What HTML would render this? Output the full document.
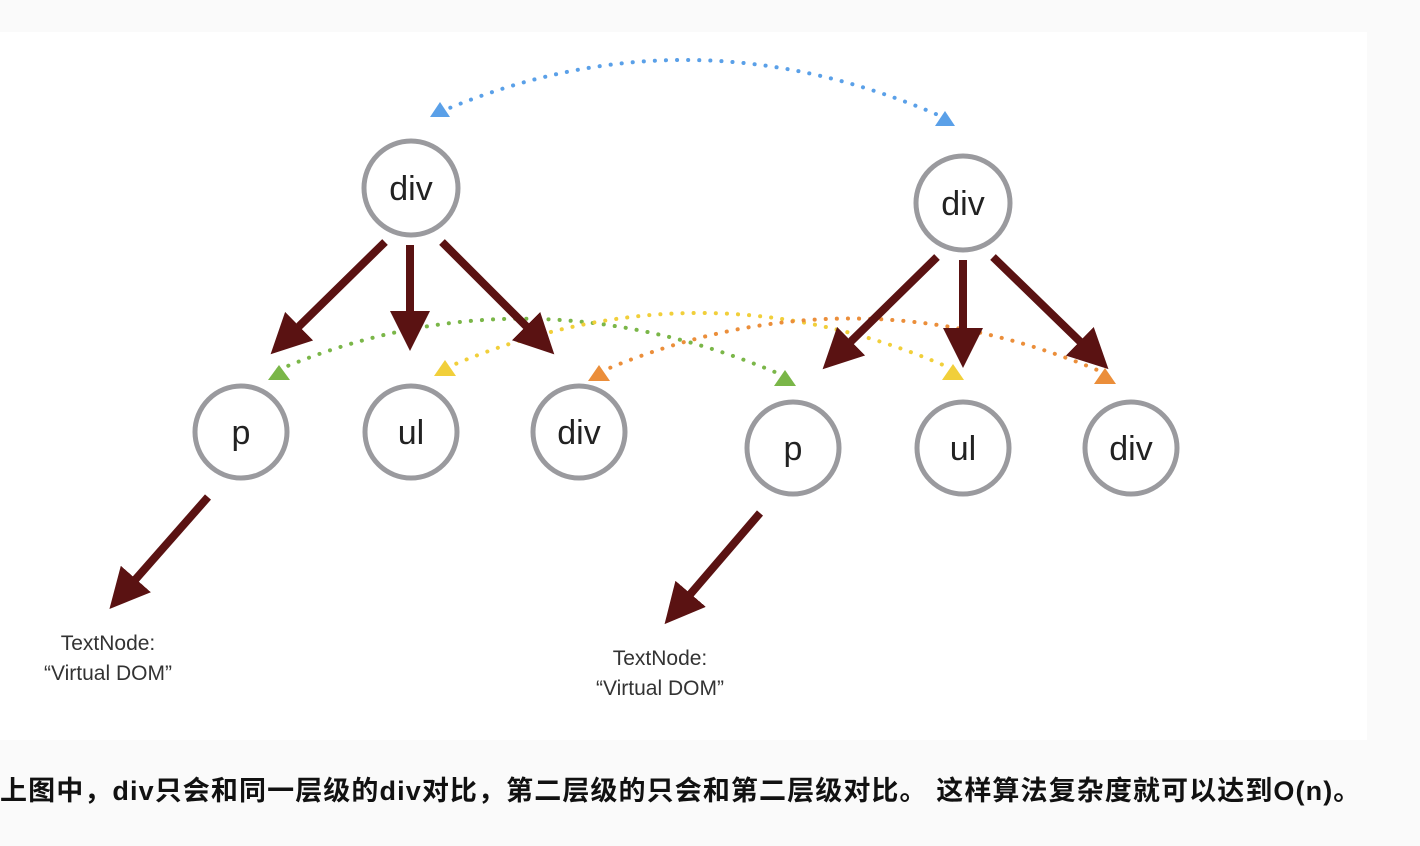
<!DOCTYPE html>
<html><head><meta charset="utf-8"><style>
body{margin:0;width:1420px;height:846px;background:#fafafa;overflow:hidden;position:relative;font-family:"Liberation Sans","Noto Sans CJK SC",sans-serif}
#img{position:absolute;left:0;top:32px;width:1367px;height:708px;background:#fff}
svg{position:absolute;left:0;top:0}
.cap{position:absolute;left:0;top:773px;font-size:27px;line-height:36px;font-weight:bold;color:#111;white-space:nowrap;letter-spacing:1.1px}
</style></head><body>
<div id="img"></div>
<svg width="1420" height="846" viewBox="0 0 1420 846">
<defs>
<marker id="ah" markerWidth="5" markerHeight="5" refX="3" refY="2.5" orient="auto" markerUnits="strokeWidth"><path d="M0,0 L5,2.5 L0,5 z" fill="#5a1212"/></marker>
</defs>
<g fill="none" stroke-width="4" stroke-dasharray="0.1 11" stroke-linecap="round">
<path d="M440,112 Q690,5 945,118" stroke="#5aa0e8"/>
<path d="M278,370 Q525,265 782,375" stroke="#7ab648"/>
<path d="M446,368 Q700,258 950,368" stroke="#f1cf3a"/>
<path d="M600,372 Q850,265 1102,372" stroke="#eb8e3a"/>
</g>
<g>
<path d="M430,117 L450,117 L440,102 z" fill="#5aa0e8"/>
<path d="M935,126 L955,126 L945,111 z" fill="#5aa0e8"/>
<path d="M268,380 L290,380 L279,365 z" fill="#7ab648"/>
<path d="M774,386 L796,386 L785,370 z" fill="#7ab648"/>
<path d="M434,376 L456,376 L445,360 z" fill="#f1cf3a"/>
<path d="M942,380 L964,380 L953,364 z" fill="#f1cf3a"/>
<path d="M588,381 L610,381 L599,365 z" fill="#eb8e3a"/>
<path d="M1094,384 L1116,384 L1105,368 z" fill="#eb8e3a"/>
</g>
<g stroke="#5a1212" stroke-width="8" fill="none" marker-end="url(#ah)">
<line x1="385" y1="242" x2="282" y2="343"/>
<line x1="410" y1="245" x2="410" y2="335"/>
<line x1="442" y1="242" x2="543" y2="343"/>
<line x1="937" y1="257" x2="834" y2="358"/>
<line x1="963" y1="260" x2="963" y2="352"/>
<line x1="993" y1="257" x2="1097" y2="358"/>
<line x1="208" y1="497" x2="120" y2="597"/>
<line x1="760" y1="513" x2="675" y2="612"/>
</g>
<g fill="none" stroke="#9a9a9e" stroke-width="5">
<circle cx="411" cy="188" r="47"/>
<circle cx="963" cy="203" r="47"/>
<circle cx="241" cy="432" r="46"/>
<circle cx="411" cy="432" r="46"/>
<circle cx="579" cy="432" r="46"/>
<circle cx="793" cy="448" r="46"/>
<circle cx="963" cy="448" r="46"/>
<circle cx="1131" cy="448" r="46"/>
</g>
<g font-family="Liberation Sans, sans-serif" font-size="34" fill="#222" text-anchor="middle">
<text x="411" y="200">div</text>
<text x="963" y="215">div</text>
<text x="241" y="444">p</text>
<text x="411" y="444">ul</text>
<text x="579" y="444">div</text>
<text x="793" y="460">p</text>
<text x="963" y="460">ul</text>
<text x="1131" y="460">div</text>
</g>
<g font-family="Liberation Sans, sans-serif" font-size="21" fill="#333" text-anchor="middle">
<text x="108" y="650">TextNode:</text>
<text x="108" y="680">“Virtual DOM”</text>
<text x="660" y="665">TextNode:</text>
<text x="660" y="695">“Virtual DOM”</text>
</g>
</svg>
<div class="cap">上图中，div只会和同一层级的div对比，第二层级的只会和第二层级对比。 这样算法复杂度就可以达到O(n)。</div>
</body></html>
